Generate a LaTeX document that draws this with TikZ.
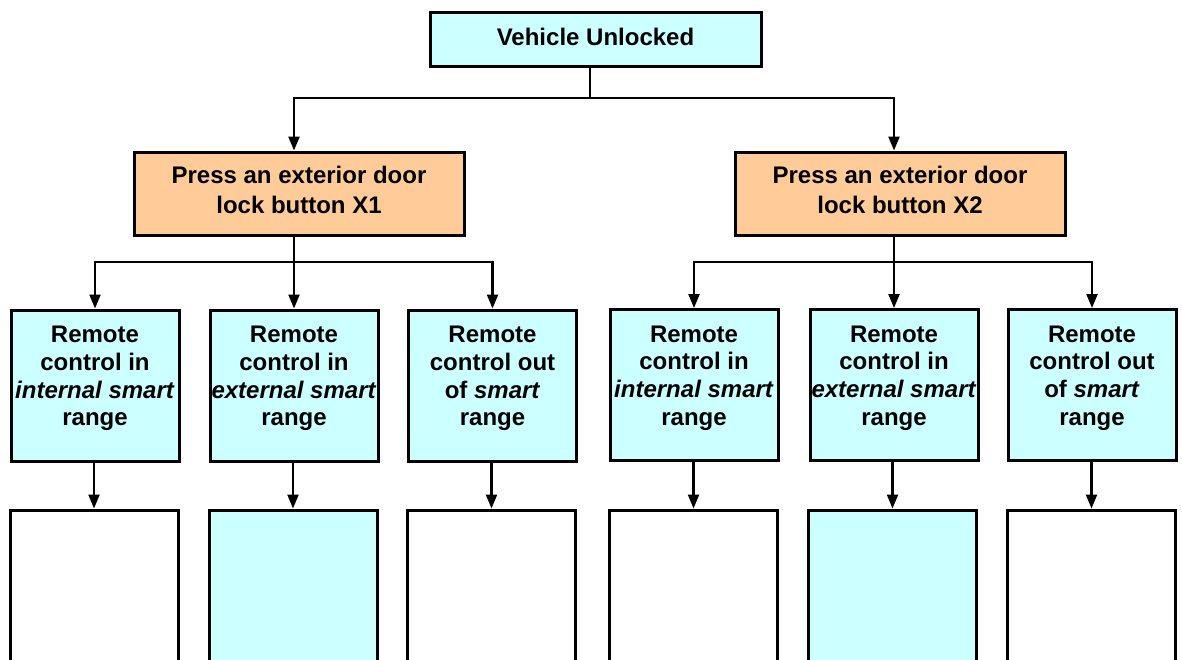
\documentclass[tikz,border=0pt]{standalone}
\usepackage{fontspec}
\setmainfont{Liberation Sans}
\usetikzlibrary{arrows.meta}
\definecolor{lcyan}{HTML}{CCFFFF}
\definecolor{lorange}{HTML}{FFCC99}
\begin{document}
\begin{tikzpicture}[x=1pt,y=-1pt,
  box/.style={draw, line width=3pt, inner sep=0pt},
  txt/.style={font=\bfseries\fontsize{24}{27.7}\selectfont, align=center, inner sep=0pt},
  otxt/.style={font=\bfseries\fontsize{24}{29.5}\selectfont, align=center, inner sep=0pt},
  cbox/.style={box, fill=lcyan, minimum width=168pt, minimum height=151pt},
  obox/.style={box, fill=lorange, minimum width=330pt, minimum height=83pt},
  conn/.style={line width=2.3pt},
  arr/.style={line width=2.3pt, -{Triangle[length=14pt,width=11pt]}}]
\useasboundingbox (0,0) rectangle (1182,659);
\clip (0,0) rectangle (1182,659);
% top
\node[box, fill=lcyan, minimum width=331pt, minimum height=54pt] (top) at (595.5,39) {};
\node[txt] (ttop) at ([yshift=2pt]top.center) {Vehicle Unlocked};
\node[obox] (x1) at (299,193.5) {};
\node[obox] (x2) at (900,193.5) {};
\node[otxt] (tx1) at ([yshift=3.5pt]x1.center) {Press an exterior door\\lock button X1};
\node[otxt] (tx2) at ([yshift=3.5pt]x2.center) {Press an exterior door\\lock button X2};
% cyan row
\node[cbox] (B1) at (95,385.5) {};
\node[cbox] (B2) at (294,385.5) {};
\node[cbox] (B3) at (492.5,385.5) {};
\node[cbox] (B4) at (694,385) {};
\node[cbox] (B5) at (894,385) {};
\node[cbox] (B6) at (1092,385) {};
\node[txt] (T1) at ([yshift=7pt]B1.center) {Remote\\control in\\\textit{internal smart}\\range};
\node[txt] (T2) at ([yshift=7pt]B2.center) {Remote\\control in\\\textit{external smart}\\range};
\node[txt] (T3) at ([yshift=7pt]B3.center) {Remote\\control out\\of \textit{smart}\\range};
\node[txt] (T4) at ([yshift=7pt]B4.center) {Remote\\control in\\\textit{internal smart}\\range};
\node[txt] (T5) at ([yshift=7pt]B5.center) {Remote\\control in\\\textit{external smart}\\range};
\node[txt] (T6) at ([yshift=7pt]B6.center) {Remote\\control out\\of \textit{smart}\\range};
% bottom row
\node[box, fill=white, minimum width=168pt, minimum height=200pt] (D1) at (94,610) {};
\node[box, fill=lcyan, minimum width=168pt, minimum height=200pt] (D2) at (293,610) {};
\node[box, fill=white, minimum width=168pt, minimum height=200pt] (D3) at (491.5,610) {};
\node[box, fill=white, minimum width=168pt, minimum height=200pt] (D4) at (693.5,610) {};
\node[box, fill=lcyan, minimum width=168pt, minimum height=200pt] (D5) at (892.5,610) {};
\node[box, fill=white, minimum width=168pt, minimum height=200pt] (D6) at (1091.5,610) {};
% connectors
\coordinate (j0) at (590,98);
\draw[conn] (top.south -| j0) -- (j0);
\draw[arr] (j0) -| (x1.north -| B2.north);
\draw[arr] (j0) -| (x2.north -| B5.north);
\coordinate (j1) at (294,262);
\draw[arr] (x1.south -| j1) -- (B2.north);
\draw[arr] (j1) -| (B1.north);
\draw[arr] (j1) -| (B3.north);
\coordinate (j2) at (894,262);
\draw[arr] (x2.south -| j2) -- (B5.north);
\draw[arr] (j2) -| (B4.north);
\draw[arr] (j2) -| (B6.north);
\draw[arr] (B1.south -| D1.north) -- (D1.north);
\draw[arr] (B2.south -| D2.north) -- (D2.north);
\draw[arr] (B3.south -| D3.north) -- (D3.north);
\draw[arr] (B4.south -| D4.north) -- (D4.north);
\draw[arr] (B5.south -| D5.north) -- (D5.north);
\draw[arr] (B6.south -| D6.north) -- (D6.north);
\end{tikzpicture}
\end{document}
